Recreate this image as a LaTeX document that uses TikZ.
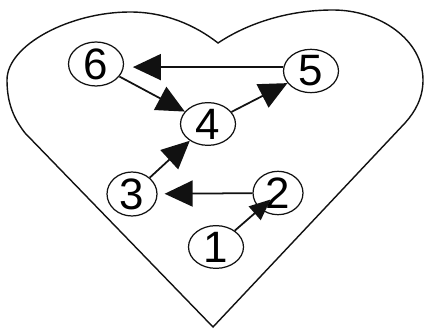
\documentclass[tikz,border=0pt]{standalone}
\usepackage{fontspec}
\setmainfont{Liberation Sans}
\usetikzlibrary{arrows.meta, shapes.geometric}
\definecolor{inkBlack}{HTML}{111111}
\tikzset{
  heartLine/.style={draw=inkBlack, line width=0.8pt},
  numNode/.style={ellipse, draw=inkBlack, line width=0.7pt, inner sep=0pt,
                  minimum width=1.1cm, minimum height=0.78cm,
                  font=\fontsize{25}{29}\selectfont},
  arrowK/.style={-{Triangle[length=0.56cm, width=0.52cm]}, inkBlack, line width=1pt},
  arrowS/.style={-{Triangle[length=0.42cm, width=0.36cm]}, inkBlack, line width=1pt},
}
\begin{document}
\begin{tikzpicture}[x=0.02cm, y=-0.02cm]
  \useasboundingbox (0,0) rectangle (425,330);
  % Corazon
  \draw[heartLine] (218,43) .. controls (195,25) and (165,12) .. (130,12)
    .. controls (70,12) and (7,45) .. (7,80)
    .. controls (7,105) and (15,120) .. (25,133)
    -- (213,327) -- (405,123)
    .. controls (415,112) and (423,98) .. (423,80)
    .. controls (423,40) and (380,10) .. (333,10)
    .. controls (285,10) and (245,25) .. (218,43) -- cycle;
  % Nodos
  \node[numNode] (n6) at (96,64) {6};
  \node[numNode] (n5) at (311,71) {5};
  \node[numNode, minimum height=0.76cm] (n4) at (208,124) {4};
  \node[numNode, minimum width=1cm, minimum height=0.74cm] (n3) at (132,194) {3};
  \node[numNode, minimum width=1cm, minimum height=0.74cm] (n2) at (278,193) {2};
  \node[numNode, minimum height=0.8cm] (n1) at (216,247) {1};
  % Flechas
  \draw[arrowS, shorten >=-8pt] (n1) -- (n2);
  \draw[arrowK, shorten >=4pt] (n2) -- (n3);
  \draw[arrowK] (n3) -- (n4);
  \draw[arrowK] (n4) -- (n5);
  \draw[arrowK, shorten >=5pt] (n5.172) -- (n6.east |- n5.172);
  \draw[arrowK] (n6) -- (n4);
\end{tikzpicture}
\end{document}
